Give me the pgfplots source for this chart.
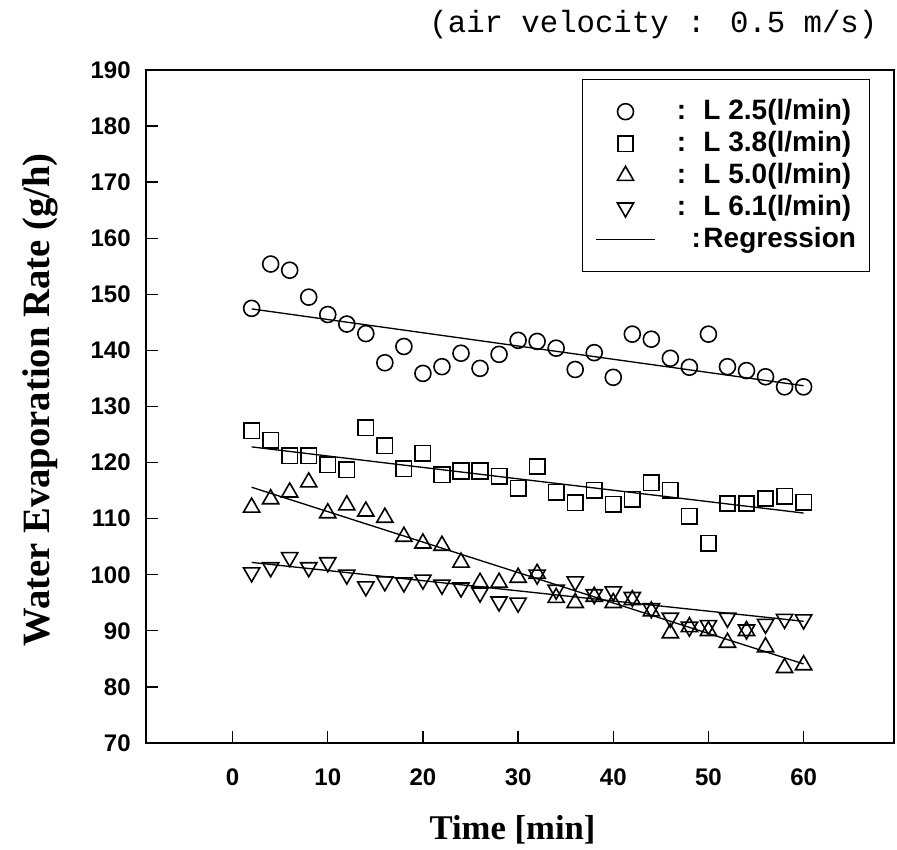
\documentclass[border=0pt]{standalone}
\usepackage{fontspec}
\setmainfont{Liberation Sans}
\newfontfamily\serifb{Liberation Serif}
\newfontfamily\mono{Liberation Mono}
\usepackage{pgfplots}
\pgfplotsset{compat=1.18}

% L 2.5, 3.8, 5.0, 6.1 l/min, every 2 min
\pgfplotstableread{
t    a      b      c      d
2    147.5  125.7  112.0  100.4
4    155.4  124.0  113.5  101.3
6    154.3  121.2  114.7  103.1
8    149.5  121.2  116.5  101.3
10   146.4  119.6  111.0  102.2
12   144.7  118.7  112.4  100.0
14   143.0  126.2  111.3  97.9
16   137.8  123.0  110.2  98.8
18   140.7  118.9  106.8  98.6
20   135.9  121.7  105.6  99.1
22   137.1  117.8  105.2  98.2
24   139.5  118.5  102.2  97.7
26   136.8  118.5  98.6   96.8
28   139.3  117.6  98.6   95.2
30   141.8  115.4  99.5   95.0
32   141.6  119.3  100.2  100.0
34   140.4  114.7  95.9   97.3
36   136.6  112.8  95.0   98.8
38   139.6  115.1  96.1   96.5
40   135.2  112.6  95.0   97.0
42   142.9  113.5  95.5   96.0
44   142.0  116.4  93.5   94.0
46   138.6  115.1  89.6   92.3
48   137.0  110.4  90.7   90.7
50   142.9  105.6  90.0   91.0
52   137.1  112.7  87.9   92.3
54   136.4  112.7  90.0   90.2
56   135.3  113.6  87.1   91.2
58   133.5  114.0  83.4   92.1
60   133.5  112.9  83.9   92.0
}\evap

\begin{document}
\begin{tikzpicture}
\begin{axis}[
    name=ax,
    scale only axis,
    width=561pt, height=504.75pt,
    xmin=-9.1, xmax=69.5,
    ymin=70, ymax=190,
    xtick={0,10,...,60},
    ytick={70,80,...,190},
    tick align=inside,
    xtick pos=left, ytick pos=left,
    major tick length=9pt,
    axis line style={line width=1pt},
    every tick/.style={line width=1pt, black},
    /pgf/number format/assume math mode=true,
    ticklabel style={font=\fontsize{18}{18}\selectfont\bfseries},
    xticklabel style={yshift=-16pt},
    yticklabel style={xshift=-8pt},
    xlabel={Time [min]},
    ylabel={Water Evaporation Rate (g/h)},
    xlabel style={font=\fontsize{26}{26}\selectfont\serifb\bfseries,
        at={([yshift=-65pt]axis description cs:0.49,0)}, anchor=center},
    ylabel style={font=\fontsize{29}{29}\selectfont\serifb\bfseries,
        at={([xshift=-79.5pt]axis description cs:0,0.51)}, anchor=center},
    title={(air velocity : 0.5 m/s)},
    title style={font=\fontsize{23}{23}\selectfont\mono,
        at={([xshift=-9pt,yshift=22pt]axis description cs:1,1)}, anchor=base east},
    legend cell align=left,
    legend image code/.code={\draw[mark repeat=2,mark phase=2,#1]
        plot coordinates {(0pt,0pt) (22pt,0pt) (44pt,0pt)};},
    legend style={at={(1,1)}, anchor=north east, xshift=-18pt, yshift=-6.75pt,
        font=\fontsize{21}{21}\selectfont\bfseries, draw=black, line width=1pt,
        inner xsep=10pt, inner ysep=12pt, row sep=0pt,
        nodes={inner sep=0pt, text height=18pt, text depth=6pt}},
]
\addplot[only marks, mark=o, mark size=6pt, mark options={line width=1.2pt}]
    table[x=t, y=a] {\evap};
\addlegendentry{\makebox[36pt][l]{\hspace{16pt}:}L 2.5(l/min)}
\addplot[only marks, mark=square, mark size=5.8pt, mark options={line width=1.2pt}]
    table[x=t, y=b] {\evap};
\addlegendentry{\makebox[36pt][l]{\hspace{16pt}:}L 3.8(l/min)}
\addplot[only marks, mark=triangle, mark size=7pt, mark options={line width=1.2pt}]
    table[x=t, y=c] {\evap};
\addlegendentry{\makebox[36pt][l]{\hspace{16pt}:}L 5.0(l/min)}
\addplot[only marks, mark=triangle, mark size=7pt, mark options={line width=1.2pt, rotate=180}]
    table[x=t, y=d] {\evap};
\addlegendentry{\makebox[36pt][l]{\hspace{16pt}:}L 6.1(l/min)}
% regression lines
\addplot[black, line width=1pt, no marks] coordinates {(2,147.4) (60,133.7)};
\addlegendentry{\makebox[36pt][l]{\hspace{27pt}:}Regression}
\addplot[black, line width=1pt, no marks, forget plot] coordinates {(2,122.8) (60,111.0)};
\addplot[black, line width=1pt, no marks, forget plot] coordinates {(2,115.6) (60,84.1)};
\addplot[black, line width=1pt, no marks, forget plot] coordinates {(2,102.2) (60,91.7)};
\end{axis}
\pgfresetboundingbox
\path[use as bounding box] ([shift={(-109.5pt,-80.25pt)}]ax.south west)
    rectangle ([shift={(2.25pt,52.5pt)}]ax.north east);
\end{tikzpicture}
\end{document}
